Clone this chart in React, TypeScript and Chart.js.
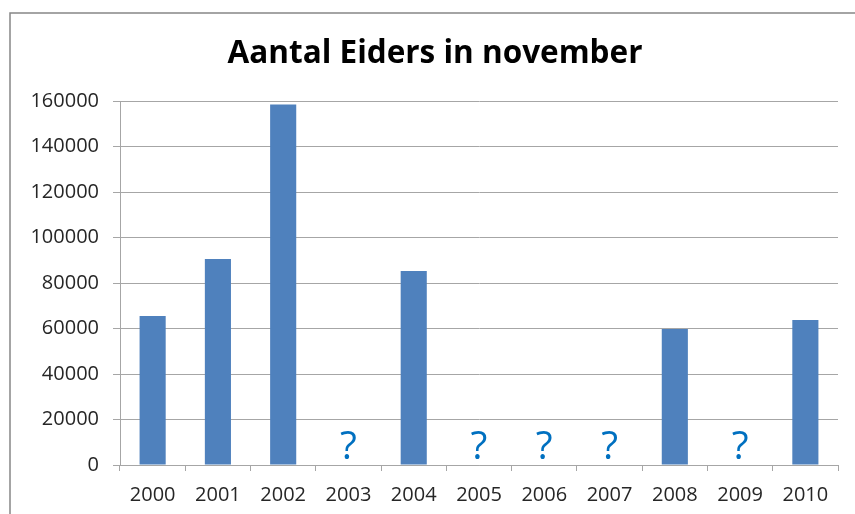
import React, { useEffect, useRef } from "react";
import { Chart, registerables } from "chart.js";

Chart.register(...registerables);

const title = "Aantal Eiders in november";
const years = ["2000", "2001", "2002", "2003", "2004", "2005", "2006", "2007", "2008", "2009", "2010"];
const eiders: (number | null)[] = [65500, 90500, 158500, null, 85300, null, null, null, 59800, null, 63700];
const missingMark = "?";
const yMin = 0;
const yMax = 160000;
const yStep = 20000;

const FONT = "'Open Sans', 'Liberation Sans', sans-serif";

const framePlugin = {
  id: "frame",
  beforeDraw(chart: any) {
    const ctx = chart.ctx;
    ctx.save();
    ctx.fillStyle = "#ffffff";
    ctx.fillRect(0, 0, chart.width, chart.height);
    ctx.strokeStyle = "#878787";
    ctx.lineWidth = 1.5;
    ctx.beginPath();
    ctx.moveTo(10, chart.height);
    ctx.lineTo(10, 13);
    ctx.lineTo(chart.width, 13);
    ctx.stroke();
    // title
    ctx.fillStyle = "#000000";
    ctx.font = `bold 31.5px ${FONT}`;
    ctx.textAlign = "center";
    ctx.textBaseline = "alphabetic";
    ctx.fillText(title, 435, 63);
    ctx.restore();
  },
};

const missingPlugin = {
  id: "missingMarks",
  afterDatasetsDraw(chart: any) {
    const ctx = chart.ctx;
    const xs = chart.scales.x;
    const ys = chart.scales.y;
    ctx.save();
    ctx.fillStyle = "#0070C0";
    ctx.font = `39px ${FONT}`;
    ctx.textAlign = "center";
    ctx.textBaseline = "alphabetic";
    eiders.forEach((v, i) => {
      if (v === null) {
        ctx.fillText(missingMark, xs.getPixelForValue(i), ys.getPixelForValue(0) - 6);
      }
    });
    ctx.restore();
  },
};

export default function App() {
  const ref = useRef<HTMLCanvasElement>(null);
  useEffect(() => {
    if (!ref.current) return;
    const chart = new Chart(ref.current, {
      type: "bar",
      data: {
        labels: years,
        datasets: [
          {
            data: eiders,
            backgroundColor: "#4F81BD",
            barPercentage: 0.4,
            categoryPercentage: 1,
          },
        ],
      },
      options: {
        responsive: false,
        animation: false,
        layout: { padding: { left: 0, right: 17, top: 101, bottom: 0 } },
        plugins: {
          legend: { display: false },
          tooltip: { enabled: false },
          title: { display: false },
        },
        scales: {
          x: {
            grid: { display: true, drawOnChartArea: false, color: "#A6A6A6", tickLength: 6 },
            border: { display: true, color: "#A6A6A6" },
            ticks: { color: "#262626", font: { family: FONT, size: 20 }, padding: 12, maxRotation: 0 },
            afterFit(scale: any) {
              scale.height = 49;
            },
          },
          y: {
            min: yMin,
            max: yMax,
            ticks: {
              stepSize: yStep,
              color: "#262626",
              font: { family: FONT, size: 20 },
              padding: 14,
              callback: (v: any) => String(v),
            },
            grid: { color: "#A6A6A6", tickLength: 7 },
            border: { display: true, color: "#A6A6A6" },
            afterFit(scale: any) {
              scale.width = 120;
            },
          },
        },
      },
      plugins: [framePlugin, missingPlugin],
    });
    return () => chart.destroy();
  }, []);
  return (
    <canvas
      ref={ref}
      width={855}
      height={514}
      style={{ position: "absolute", left: 0, top: 0, display: "block" }}
    />
  );
}
